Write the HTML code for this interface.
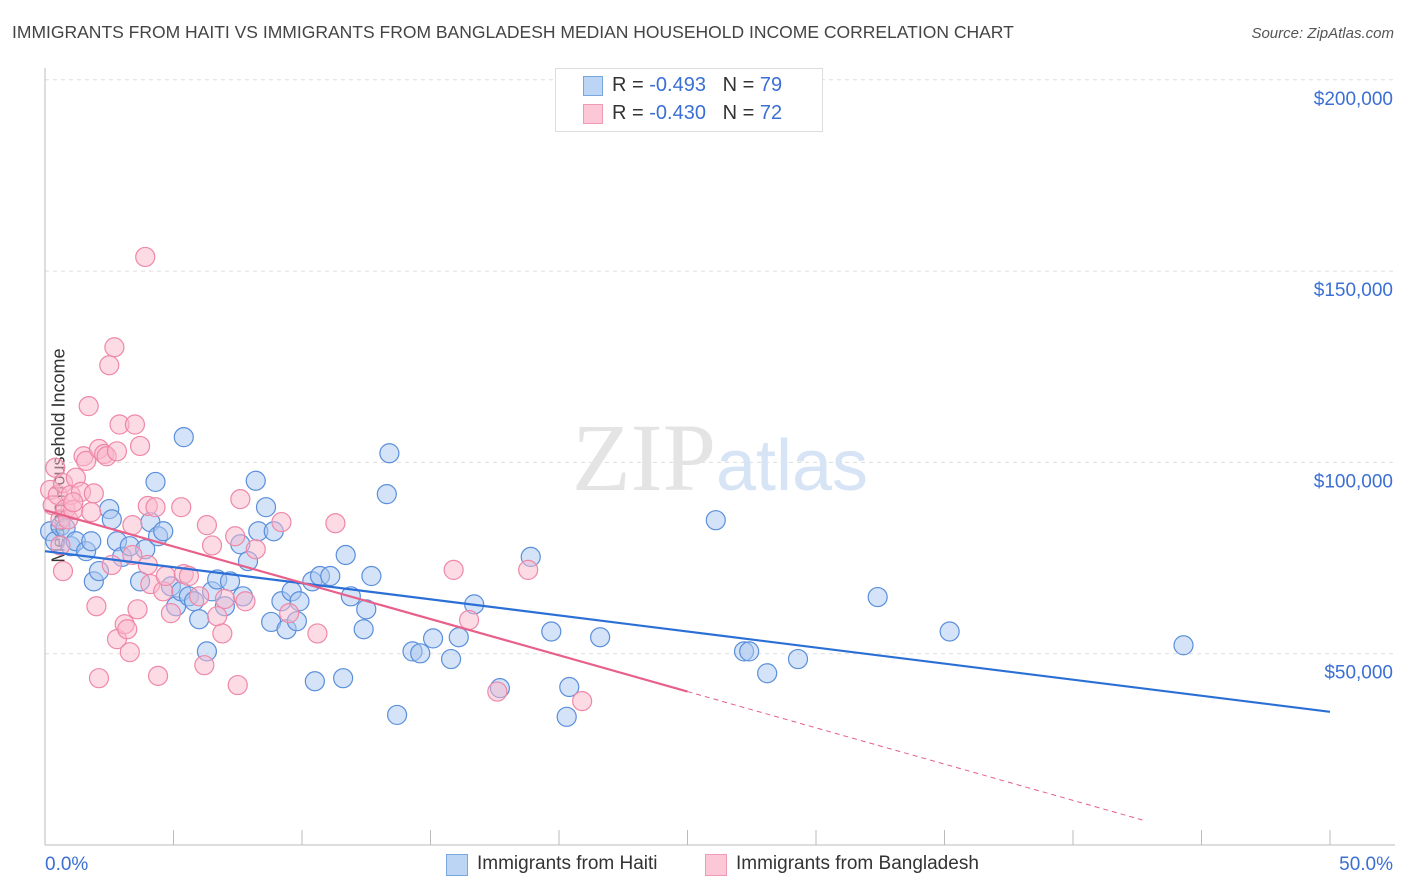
<!DOCTYPE html>
<html><head><meta charset="utf-8"><style>
body{margin:0;background:#fff;font-family:"Liberation Sans",sans-serif;}
#wrap{position:relative;width:1406px;height:892px;overflow:hidden}
.t{position:absolute;white-space:nowrap}
</style></head><body>
<div id="wrap">
<div class="t" style="left:12px;top:22px;font-size:17.5px;color:#444">IMMIGRANTS FROM HAITI VS IMMIGRANTS FROM BANGLADESH MEDIAN HOUSEHOLD INCOME CORRELATION CHART</div>
<div class="t" style="right:12px;top:25px;font-size:15px;color:#555;font-style:italic">Source: ZipAtlas.com</div>
<div class="t" style="left:-48px;top:445px;transform:rotate(-90deg);font-size:18px;color:#333">Median Household Income</div>
<svg id="svg" width="1406" height="892" style="position:absolute;left:0;top:0"></svg>
<div style="position:absolute;left:555px;top:68px;width:266px;height:62px;border:1px solid #ddd;background:#fff"></div>
<div style="position:absolute;left:583px;top:76px;width:18px;height:18px;background:#bcd5f5;border:1px solid #7aa6e0"></div>
<div style="position:absolute;left:583px;top:104px;width:18px;height:18px;background:#fcc8d8;border:1px solid #f09ab5"></div>
<div class="t" style="left:612px;top:74px;font-size:20px;color:#333">R = <span style="color:#3b6fd4">-0.493</span>&nbsp;&nbsp;&nbsp;N = <span style="color:#3b6fd4">79</span></div>
<div class="t" style="left:612px;top:102px;font-size:20px;color:#333">R = <span style="color:#3b6fd4">-0.430</span>&nbsp;&nbsp;&nbsp;N = <span style="color:#3b6fd4">72</span></div>
<div style="position:absolute;left:446px;top:854px;width:20px;height:20px;background:#bcd5f5;border:1px solid #7aa6e0"></div>
<div class="t" style="left:477px;top:853px;font-size:19px;color:#333">Immigrants from Haiti</div>
<div style="position:absolute;left:705px;top:854px;width:20px;height:20px;background:#fcc8d8;border:1px solid #f09ab5"></div>
<div class="t" style="left:736px;top:853px;font-size:19px;color:#333">Immigrants from Bangladesh</div>
</div>
<script>
const yTicks=[50000,100000,150000,200000];
const yTickLabels=["$50,000","$100,000","$150,000","$200,000"];
const xTickLabels=["0.0%","50.0%"];
const haitiX=[0.2,0.4,0.6,0.8,1.0,1.2,1.6,1.8,1.9,2.1,2.5,2.6,2.8,3.0,3.3,3.7,3.9,4.1,4.3,4.4,4.6,4.9,5.1,5.3,5.4,5.6,5.8,6.0,6.3,6.5,6.7,7.0,7.2,7.6,7.7,7.9,8.2,8.3,8.6,8.8,8.9,9.2,9.4,9.6,9.8,9.9,10.4,10.5,10.7,11.1,11.6,11.7,11.9,12.4,12.5,12.7,13.3,13.4,13.7,14.3,14.6,15.1,15.8,16.1,16.7,17.7,18.9,19.7,20.4,20.3,21.6,26.1,27.2,27.4,28.1,29.3,32.4,35.2,44.3];
const haitiY=[82.0,79.4,83.3,82.8,78.1,79.4,76.8,79.4,68.9,71.6,87.8,85.1,79.4,75.3,78.1,68.9,77.3,84.4,94.9,80.7,82.0,67.6,62.4,66.3,106.6,65.0,63.7,59.0,50.6,66.3,69.4,62.4,68.9,78.6,65.0,74.2,95.2,82.0,88.3,58.3,82.0,63.7,56.4,66.3,58.5,63.7,68.9,42.8,70.3,70.3,43.6,75.8,65.0,56.4,61.6,70.3,91.7,102.4,34.0,50.6,50.1,54.0,48.6,54.3,62.9,41.0,75.3,55.8,41.3,33.5,54.3,84.9,50.6,50.6,44.9,48.6,64.8,55.8,52.2];
const bangX=[0.2,0.3,0.4,0.5,0.6,0.7,0.7,0.8,0.9,1.0,1.1,1.2,1.4,1.5,1.6,1.7,1.8,1.9,2.0,2.1,2.1,2.3,2.4,2.5,2.6,2.7,2.8,2.8,2.9,3.1,3.2,3.3,3.4,3.5,3.6,3.9,4.0,4.1,4.3,4.4,4.6,4.7,4.9,5.3,5.4,5.6,6.0,6.2,6.3,6.5,6.7,6.9,7.5,7.6,7.8,8.2,9.2,9.5,10.6,11.3,15.9,16.5,17.6,18.8,20.9,0.6,4.0,1.1,7.0,3.7,7.4,3.4];
const bangY=[92.8,88.8,98.6,91.5,85.1,71.6,94.6,87.8,85.1,91.5,87.6,96.0,92.3,101.6,100.4,114.7,87.0,91.9,62.4,103.5,43.6,102.2,101.6,125.4,73.2,130.1,53.8,102.9,109.9,57.7,56.4,50.4,83.6,109.9,61.6,153.7,88.6,68.2,88.3,44.2,66.3,70.3,60.6,88.3,70.8,70.3,65.0,47.0,83.6,78.3,59.8,55.3,41.8,90.4,63.7,77.3,84.4,60.6,55.3,84.1,71.9,58.8,40.1,71.9,37.6,78.3,73.2,89.6,64.3,104.3,80.7,75.8];
const haitiTrend=[76800,34700];
const bangTrend=[87500,-79000];
const xMax=50, xTrendSolidEnd=25;
const NS="http://www.w3.org/2000/svg";
const svg=document.getElementById('svg');
const X0=45,X1=1330,Y0=845,PY=191.3/50000;
const xs=v=>X0+(v/xMax)*(X1-X0);
const ys=v=>Y0-v*PY;
function mk(tag,attrs){const e=document.createElementNS(NS,tag);for(const k in attrs)e.setAttribute(k,attrs[k]);svg.appendChild(e);return e;}
yTicks.forEach((t,i)=>{
 const g=mk('line',{x1:45,x2:1395,y1:ys(t),y2:ys(t),stroke:'#ddd','stroke-dasharray':'4,4'});
 
 
 const tx=mk('text',{x:1393,y:ys(t)+25,'text-anchor':'end','font-size':19,fill:'#3b6fd4','font-family':'Liberation Sans, sans-serif'});
 tx.textContent=yTickLabels[i];
 
 
});
const ax=mk('line',{x1:45,x2:45,y1:68,y2:845,stroke:'#bbb'});


const bx=mk('line',{x1:45,x2:1395,y1:845,y2:845,stroke:'#bbb'});


for(let i=0;i<=10;i++){const px=X0+i*128.5;const tk=mk('line',{x1:px,x2:px,y1:830,y2:845,stroke:'#bbb'});
 
 }
[[0,45,'start'],[1,1393,'end']].forEach(([i,x,a])=>{const t=mk('text',{x:x,y:870,'text-anchor':a,'font-size':19,fill:'#3b6fd4','font-family':'Liberation Sans, sans-serif'});t.textContent=xTickLabels[i];
 
 });
const wm=mk('text',{x:720,y:490,'text-anchor':'middle','font-size':96,fill:'#e4e4e4','font-family':'Liberation Serif, serif'});
wm.innerHTML='ZIP<tspan fill="#d6e4f5" font-family="Liberation Sans, sans-serif" font-size="72">atlas</tspan>';


function pts(xa,ya,fill,stroke,name){xa.forEach((x,i)=>{const c=mk('circle',{cx:xs(x),cy:ys(ya[i]*1000),r:9.5,fill:fill,'fill-opacity':0.5,stroke:stroke,'stroke-width':1.2});
 
 });}
pts(haitiX,haitiY,'#a9c8f0','#5b8fdc','haiti-point');
pts(bangX,bangY,'#f9b8cb','#ef88a8','bangladesh-point');
const lx=x=>haitiTrend[0]+haitiTrend[1]*(x/100)*-1*-1*-1;
const hl=mk('line',{x1:xs(0),y1:ys(haitiTrend[0]),x2:xs(xMax),y2:ys(haitiTrend[0]-haitiTrend[1]*xMax/xMax*1.21),stroke:'#2b6fd6','stroke-width':2.2});


const by=x=>bangTrend[0]+bangTrend[1]*x/xMax*1.2;
const pl=mk('line',{x1:xs(0),y1:ys(by(0)),x2:xs(xTrendSolidEnd),y2:ys(by(xTrendSolidEnd)),stroke:'#e8608a','stroke-width':2.2});


const pd=mk('line',{x1:xs(xTrendSolidEnd),y1:ys(by(xTrendSolidEnd)),x2:xs(42.7),y2:ys(by(42.7)),stroke:'#e8608a','stroke-width':1,'stroke-dasharray':'5,4'});


</script>
</body></html>
